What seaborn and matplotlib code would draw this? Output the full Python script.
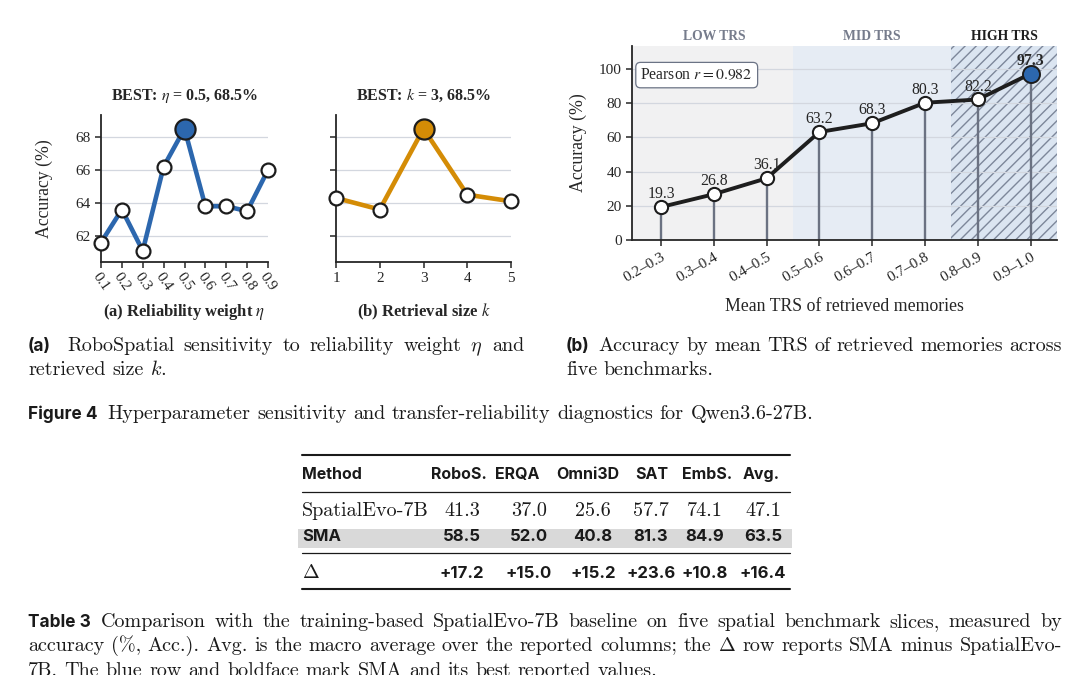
import numpy as np
import seaborn as sns
import matplotlib
matplotlib.use("Agg")
from matplotlib import pyplot as plt
from matplotlib.transforms import Affine2D, blended_transform_factory
from matplotlib.lines import Line2D
from matplotlib.patches import Rectangle

# ---- data ----
eta_vals = [0.1, 0.2, 0.3, 0.4, 0.5, 0.6, 0.7, 0.8, 0.9]
eta_acc = [61.6, 63.6, 61.1, 66.2, 68.5, 63.8, 63.8, 63.5, 66.0]
k_vals = [1, 2, 3, 4, 5]
k_acc = [64.3, 63.6, 68.5, 64.5, 64.1]

trs_bins = ["0.2–0.3", "0.3–0.4", "0.4–0.5", "0.5–0.6",
            "0.6–0.7", "0.7–0.8", "0.8–0.9", "0.9–1.0"]
trs_acc = [19.3, 26.8, 36.1, 63.2, 68.3, 80.3, 82.2, 97.3]
trs_groups = ["LOW TRS", "MID TRS", "HIGH TRS"]
pearson_r = 0.982

table_cols = ["RoboS.", "ERQA", "Omni3D", "SAT", "EmbS.", "Avg."]
spatialevo = [41.3, 37.0, 25.6, 57.7, 74.1, 47.1]
sma = [58.5, 52.0, 40.8, 81.3, 84.9, 63.5]
delta = [17.2, 15.0, 15.2, 23.6, 10.8, 16.4]

BLUE = "#2c67ae"
ORANGE = "#d48c06"
INK = "#262626"

sns.set_theme(style="white")
plt.rcParams["font.family"] = ["Liberation Serif", "DejaVu Serif"]
plt.rcParams["mathtext.fontset"] = "stix"

W, H = 1090, 675
fig = plt.figure(figsize=(W / 100, H / 100), dpi=100)
px = Affine2D().scale(1 / W, -1 / H).translate(0, 1) + fig.transFigure


def axes_px(left, top, right, bottom):
    return fig.add_axes([left / W, 1 - bottom / H, (right - left) / W, (bottom - top) / H])


def style(ax):
    sns.despine(ax=ax)
    for s in ["left", "bottom"]:
        ax.spines[s].set_color(INK)
        ax.spines[s].set_linewidth(1.3)
    ax.tick_params(direction="out", length=4, width=1.1, color=INK,
                   labelsize=11, labelcolor=INK, left=True, bottom=True, pad=3.5)
    ax.yaxis.grid(True, color="#d3d7df", lw=0.9)
    ax.xaxis.grid(False)
    ax.set_axisbelow(True)
    ax.set_facecolor("none")


# ---- (a) eta / k sensitivity ----
ax1 = axes_px(101, 115, 268, 262)
ax2 = axes_px(336, 115, 511, 262)

for ax, xs, ys, col in [(ax1, eta_vals, eta_acc, BLUE), (ax2, k_vals, k_acc, ORANGE)]:
    style(ax)
    sns.lineplot(x=xs, y=ys, ax=ax, color=col, lw=3.3, marker="o", markersize=10,
                 markerfacecolor="white", markeredgecolor="#1c1c1c",
                 markeredgewidth=1.6, clip_on=False, zorder=3)
    b = int(np.argmax(ys))
    sns.scatterplot(x=[xs[b]], y=[ys[b]], ax=ax, s=210, color=col,
                    edgecolor="#1c1c1c", linewidth=1.6, zorder=4, clip_on=False)
    ax.set_ylim(60.42, 69.33)
    ax.set_xlim(xs[0], xs[-1])
    ax.set_yticks([62, 64, 66, 68])
    ax.set_xticks(xs)

ax1.set_xticklabels([f"{v:.1f}" for v in eta_vals], rotation=-55, ha="left",
                    va="top", rotation_mode="anchor")
ax1.tick_params(axis="x", pad=2)
ax1.set_ylabel("Accuracy (%)", fontsize=12.8, color=INK)
ax1.yaxis.set_label_coords(-0.29, 0.5)
ax2.set_yticklabels([])
ax2.set_ylabel("")

ax1.set_title(f"BEST: $\\eta$ = {eta_vals[int(np.argmax(eta_acc))]}, {max(eta_acc)}%",
              fontsize=11.5, fontweight="bold", color=INK, pad=11)
ax2.set_title(f"BEST: $k$ = {k_vals[int(np.argmax(k_acc))]}, {max(k_acc)}%",
              fontsize=11.5, fontweight="bold", color=INK, pad=11)
ax1.set_xlabel("(a) Reliability weight $\\eta$", fontsize=12, fontweight="bold", color=INK)
ax1.xaxis.set_label_coords(0.5, -0.27)
ax2.set_xlabel("(b) Retrieval size $k$", fontsize=12, fontweight="bold", color=INK)
ax2.xaxis.set_label_coords(0.5, -0.27)

# ---- (b) accuracy by TRS ----
ax3 = axes_px(632, 46, 1057, 240)
style(ax3)
idx = np.arange(len(trs_bins))
ax3.axvspan(-0.55, 2.5, color="#f1f1f2", lw=0, zorder=0)
ax3.axvspan(2.5, 5.5, color="#e6ecf4", lw=0, zorder=0)
ax3.axvspan(5.5, 7.5, facecolor="#dbe5f1", edgecolor="#7d879a", hatch="///", lw=0, zorder=0)
ax3.vlines(idx, 0, trs_acc, color="#6b7282", lw=1.7, zorder=2)
sns.lineplot(x=idx, y=trs_acc, ax=ax3, color="#1e1e1e", lw=2.8, marker="o",
             markersize=9.5, markerfacecolor="white", markeredgecolor="#1c1c1c",
             markeredgewidth=1.5, zorder=3, clip_on=False)
sns.scatterplot(x=[idx[-1]], y=[trs_acc[-1]], ax=ax3, s=150, color=BLUE,
                edgecolor="#1c1c1c", linewidth=1.4, zorder=4)
for i, v in zip(idx, trs_acc):
    last = i == idx[-1]
    ax3.annotate(f"{v:.1f}", (i, v), xytext=(0, 3.5), textcoords="offset points",
                 ha="center", va="bottom", fontsize=11.3, color=INK,
                 fontweight="bold" if last else "normal", zorder=5)
ax3.set_xlim(-0.55, 7.5)
ax3.set_ylim(0, 113.5)
ax3.set_yticks([0, 20, 40, 60, 80, 100])
ax3.set_xticks(idx)
ax3.set_xticklabels(trs_bins, rotation=30, ha="right", rotation_mode="anchor")
ax3.set_ylabel("Accuracy (%)", fontsize=12.8, color=INK)
ax3.yaxis.set_label_coords(-0.105, 0.5)
ax3.set_xlabel("Mean TRS of retrieved memories", fontsize=12.8, color=INK)
ax3.xaxis.set_label_coords(0.5, -0.3)
top = blended_transform_factory(ax3.transData, ax3.transAxes)
for xc, name, c in zip([1, 4, 6.5], trs_groups, ["#767c8c", "#767c8c", "#1e1e1e"]):
    ax3.text(xc, 1.05, name, transform=top, ha="center", va="center",
             fontsize=9.8, fontweight="bold", color=c)
ax3.text(0.02, 0.85, f"Pearson $r = {pearson_r}$", transform=ax3.transAxes,
         ha="left", va="center", fontsize=11.3, color=INK, zorder=6,
         bbox=dict(boxstyle="round,pad=0.3", fc="white", ec="#6b7385", lw=0.9))

# ---- captions and table ----
CM = dict(family=["cmr10", "DejaVu Serif"], size=14.5, color="#1a1a1a",
          math_fontfamily="cm")
CMT = dict(CM, size=14.5)
SB = dict(family=["Inter", "DejaVu Sans"], weight="bold", size=12.4, color="#1a1a1a")
SBH = dict(SB, size=11.5)
SBV = dict(SB, size=12)
renderer = fig.canvas.get_renderer()


def text_line(x0, y, pieces, x1=None, lead=None):
    items = [fig.text(0, y, s, transform=px, ha="left", va="baseline", **kw)
             for s, kw in pieces]
    widths = [t.get_window_extent(renderer).width for t in items]
    space = 0.33 * CM["size"] * 100 / 72
    gaps = [space] * (len(items) - 1)
    if lead is not None:
        gaps[0] = lead
    if x1 is not None:
        rest = x1 - x0 - sum(widths) - (lead or 0)
        n = len(gaps) - (1 if lead is not None else 0)
        g = rest / n
        gaps = ([lead] if lead is not None else []) + [g] * n
    x = x0
    for t, w, g in zip(items, widths, gaps + [0]):
        t.set_x(x)
        x += w + g


def words(s, kw=CM):
    return [(w, kw) for w in s.split(" ")]


text_line(28, 351, [("(a)", SB)] + words(
    "RoboSpatial sensitivity to reliability weight $\\eta$ and"), x1=524, lead=16)
text_line(28, 375, words("retrieved size $k$."))
text_line(566, 351, [("(b)", SB)] + words(
    "Accuracy by mean TRS of retrieved memories across"), x1=1062, lead=9)
text_line(566, 375, words("five benchmarks."))
text_line(28, 419, [("Figure 4", SB)] + words(
    "Hyperparameter sensitivity and transfer-reliability diagnostics for Qwen3.6-27B."),
    lead=10)

# table
for y, lw in [(455, 1.5), (492, 0.9), (553, 0.9), (589, 1.5)]:
    fig.add_artist(Line2D([302, 790], [y, y], transform=px, color="#1a1a1a", lw=lw))
fig.add_artist(Rectangle((298, 529), 494, 19, transform=px, color="#d9d9d9", lw=0, zorder=0))
head_x = [459, 517, 588, 652, 707, 761]
val_x = [462, 529, 593, 651, 705, 763]
fig.text(302, 479, "Method", transform=px, va="baseline", **SBH)
for x, c in zip(head_x, table_cols):
    fig.text(x, 479, c, transform=px, ha="center", va="baseline", **SBH)
fig.text(302, 516, "SpatialEvo-7B", transform=px, va="baseline", **CMT)
fig.text(302, 541, "SMA", transform=px, va="baseline", **SBV)
fig.text(302, 578, "$\\Delta$", transform=px, va="baseline", **CMT)
for x, a, b, d in zip(val_x, spatialevo, sma, delta):
    fig.text(x, 516, f"{a:.1f}", transform=px, ha="center", va="baseline", **CMT)
    fig.text(x, 541, f"{b:.1f}", transform=px, ha="center", va="baseline", **SBV)
    fig.text(x, 578, f"+{d:.1f}", transform=px, ha="center", va="baseline", **SBV)

text_line(28, 627, [("Table 3", SB)] + words(
    "Comparison with the training-based SpatialEvo-7B baseline on five spatial "
    "benchmark slices, measured by"), x1=1062, lead=10)
text_line(28, 651, words(
    "accuracy (%, Acc.). Avg. is the macro average over the reported columns; "
    "the $\\Delta$ row reports SMA minus SpatialEvo-"), x1=1062)
text_line(28, 676, words(
    "7B. The blue row and boldface mark SMA and its best reported values."))

fig.savefig("out.png", dpi=100, facecolor="white")
